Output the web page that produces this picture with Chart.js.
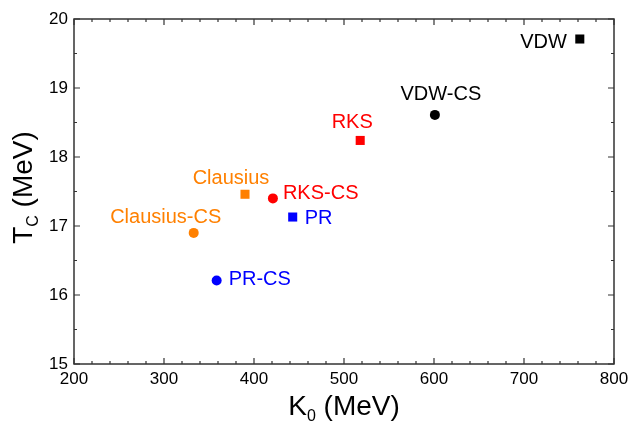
<!DOCTYPE html>
<html>
<head>
<meta charset="utf-8">
<script src="https://cdn.jsdelivr.net/npm/chart.js@4.4.1/dist/chart.umd.min.js"></script>
<style>
  html, body { margin: 0; padding: 0; background: #fff; }
  canvas { display: block; }
</style>
</head>
<body>
<canvas id="chart" width="629" height="421"></canvas>
<script>
// data
const names = ['VDW', 'VDW-CS', 'RKS', 'RKS-CS', 'Clausius', 'Clausius-CS', 'PR', 'PR-CS'];
const k0Values = [762, 601, 518, 421, 390, 333, 443, 358.5];
const tcValues = [19.71, 18.61, 18.24, 17.40, 17.46, 16.90, 17.13, 16.21];
const xTicks = [200, 300, 400, 500, 600, 700, 800];
const yTicks = [15, 16, 17, 18, 19, 20];

// styles
const colors = ['#000000', '#000000', '#ff0000', '#ff0000', '#ff8000', '#ff8000', '#0000ff', '#0000ff'];
const shapes = ['rect', 'circle', 'rect', 'circle', 'rect', 'circle', 'rect', 'circle'];
// label placement: [dx, dy, align]
const labelPos = [
    [-13, 3, 'right'],
    [6, -20, 'center'],
    [-8, -18, 'center'],
    [10, -5, 'left'],
    [-14, -16, 'center'],
    [-28, -15, 'center'],
    [12, 1, 'left'],
    [12, -1, 'left']
];

const FONT = 'Arial, "Liberation Sans", sans-serif';
const AXIS_COLOR = '#333';

const datasets = names.map((name, i) => ({
    label: name,
    data: [{ x: k0Values[i], y: tcValues[i] }],
    pointStyle: shapes[i],
    pointRadius: shapes[i] === 'rect' ? 6.4 : 5,
    pointHoverRadius: shapes[i] === 'rect' ? 6.4 : 5,
    backgroundColor: colors[i],
    borderColor: colors[i],
    borderWidth: 0
}));

// frame, inward ticks, point labels and axis titles
const decorPlugin = {
    id: 'decor',
    afterDraw(chart) {
        const ctx = chart.ctx;
        const { left, right, top, bottom } = chart.chartArea;
        const xs = chart.scales.x, ys = chart.scales.y;
        ctx.save();
        ctx.strokeStyle = AXIS_COLOR;
        ctx.lineWidth = 1.5;
        ctx.strokeRect(left, top, right - left, bottom - top);

        ctx.lineWidth = 1.2;
        ctx.beginPath();
        for (let v = 200; v <= 800; v += 20) {
            const px = xs.getPixelForValue(v);
            const len = v % 100 === 0 ? 6 : 3;
            ctx.moveTo(px, bottom); ctx.lineTo(px, bottom - len);
            ctx.moveTo(px, top); ctx.lineTo(px, top + len);
        }
        for (let v = 15; v <= 20; v += 0.5) {
            const py = ys.getPixelForValue(v);
            const len = Number.isInteger(v) ? 6 : 3;
            ctx.moveTo(left, py); ctx.lineTo(left + len, py);
            ctx.moveTo(right, py); ctx.lineTo(right - len, py);
        }
        ctx.stroke();

        // point labels
        ctx.font = '20px ' + FONT;
        ctx.textBaseline = 'middle';
        names.forEach((name, i) => {
            const px = xs.getPixelForValue(k0Values[i]);
            const py = ys.getPixelForValue(tcValues[i]);
            ctx.fillStyle = colors[i];
            ctx.textAlign = labelPos[i][2];
            ctx.fillText(name, px + labelPos[i][0], py + labelPos[i][1]);
        });

        // axis titles with subscripts
        ctx.fillStyle = '#000';
        ctx.textBaseline = 'alphabetic';
        ctx.textAlign = 'left';
        const drawTitle = (main, sub, rest, cx, baseY) => {
            ctx.font = '28px ' + FONT;
            const w1 = ctx.measureText(main).width;
            const w3 = ctx.measureText(rest).width;
            ctx.font = '16px ' + FONT;
            const w2 = ctx.measureText(sub).width;
            let x = cx - (w1 + w2 + w3) / 2;
            ctx.font = '28px ' + FONT;
            ctx.fillText(main, x, baseY);
            x += w1;
            ctx.font = '16px ' + FONT;
            ctx.fillText(sub, x, baseY + 6);
            x += w2;
            ctx.font = '28px ' + FONT;
            ctx.fillText(rest, x, baseY);
        };
        drawTitle('K', '0', ' (MeV)', (left + right) / 2, bottom + 51);

        ctx.translate(32, (top + bottom) / 2 - 4);
        ctx.rotate(-Math.PI / 2);
        drawTitle('T', 'C', ' (MeV)', 0, 0);
        ctx.restore();
    }
};

new Chart(document.getElementById('chart'), {
    type: 'scatter',
    data: { datasets },
    options: {
        responsive: false,
        animation: false,
        layout: { padding: { left: 0, right: 15, top: 19, bottom: 0 } },
        plugins: {
            legend: { display: false },
            tooltip: { enabled: false }
        },
        scales: {
            x: {
                type: 'linear',
                min: 200,
                max: 800,
                afterBuildTicks(scale) { scale.ticks = xTicks.map(v => ({ value: v })); },
                afterFit(scale) {
                    scale.height = 57;
                    scale.paddingLeft = 0;
                    scale.paddingRight = 0;
                },
                grid: { display: false, drawTicks: false },
                border: { display: false },
                ticks: {
                    padding: 5,
                    color: '#000',
                    font: { family: FONT, size: 17 }
                }
            },
            y: {
                type: 'linear',
                min: 15,
                max: 20,
                afterBuildTicks(scale) { scale.ticks = yTicks.map(v => ({ value: v })); },
                afterFit(scale) {
                    scale.width = 74;
                    scale.paddingTop = 0;
                    scale.paddingBottom = 0;
                },
                grid: { display: false, drawTicks: false },
                border: { display: false },
                ticks: {
                    padding: 6,
                    color: '#000',
                    font: { family: FONT, size: 17 }
                }
            }
        }
    },
    plugins: [decorPlugin]
});
</script>
</body>
</html>
